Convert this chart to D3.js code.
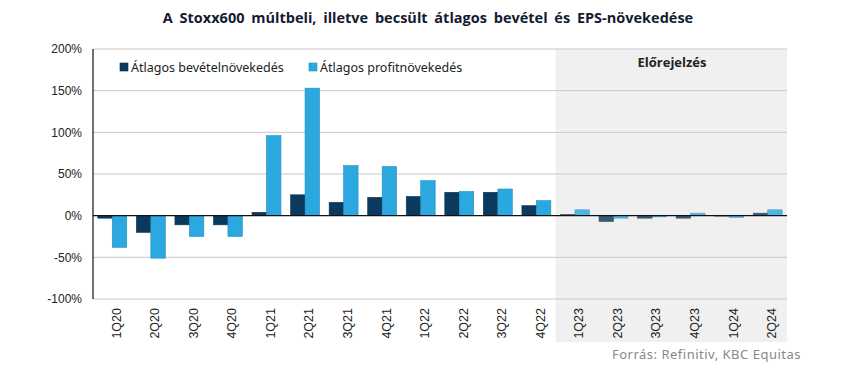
<!DOCTYPE html>
<html><head><meta charset="utf-8">
<script src="https://cdn.jsdelivr.net/npm/d3@7"></script>
<style>body{margin:0;background:#fff}svg{display:block}</style>
</head><body><svg id="c" width="850" height="365"></svg>
<script>
const categories = ["1Q20","2Q20","3Q20","4Q20","1Q21","2Q21","3Q21","4Q21","1Q22","2Q22","3Q22","4Q22","1Q23","2Q23","3Q23","4Q23","1Q24","2Q24"];
const revenue = [-3,-20,-11,-11,4,25,16,22,23,28,28,12,1.5,-7,-3,-3,-0.5,3];
const profit = [-38,-51,-25,-25,96,153,60,59,42,29,32,18,7,-3,-1.5,3,-2,7];
const forecastStart = "1Q23";
const yTicks = [-100,-50,0,50,100,150,200];
const seriesNames = ["Átlagos bevételnövekedés","Átlagos profitnövekedés"];
const colors = ["#0b3a5e","#2ba8e0"];
const strokes = ["#08304e","#1e8fc0"];

const svg = d3.select("#c");
const L=93, R=787, T=49, B=299;
const x = d3.scaleBand().domain(categories).range([L,R]).paddingInner(0.25).paddingOuter(0.125);
const y = d3.scaleLinear().domain([-100,200]).range([B,T]);
const xs = d3.scaleBand().domain([0,1]).range([0,x.bandwidth()]);

// forecast shade
const fx = x(forecastStart) - x.step()*x.paddingInner()/2;
svg.append("rect").attr("x",fx).attr("y",T).attr("width",R-fx).attr("height",342-T).attr("fill","#f0f0f0");

// grid
svg.append("g").selectAll("line").data(yTicks.filter(d=>d!==0)).join("line")
 .attr("x1",L).attr("x2",R).attr("y1",d=>y(d)).attr("y2",d=>y(d)).attr("stroke","#c8c8c8").attr("stroke-width",1);

// y axis labels
const ya = svg.append("g").attr("transform",`translate(${L},0)`).call(d3.axisLeft(y).tickValues(yTicks).tickFormat(d=>d+"%").tickSize(0).tickPadding(11));
ya.select(".domain").remove();
ya.selectAll("text").attr("font-family","Liberation Sans, Arial").attr("font-size",12).attr("fill","#222");

// bars
const data = categories.map((c,i)=>({c, v:[revenue[i],profit[i]], f: i>=categories.indexOf(forecastStart)}));
[0,1].forEach(s=>{
  svg.append("g").selectAll("rect").data(data).join("rect")
   .attr("x",d=>x(d.c)+xs(s)).attr("width",xs.bandwidth())
   .attr("y",d=>y(Math.max(0,d.v[s]))).attr("height",d=>Math.abs(y(d.v[s])-y(0)))
   .attr("fill",colors[s]).attr("stroke",strokes[s]).attr("stroke-width",0.6)
   .attr("opacity",d=>d.f?0.82:1);
});

// zero line & left axis
svg.append("line").attr("x1",L).attr("x2",R).attr("y1",y(0)).attr("y2",y(0)).attr("stroke","#111").attr("stroke-width",1.2);
svg.append("line").attr("x1",L).attr("x2",L).attr("y1",T).attr("y2",B).attr("stroke","#111").attr("stroke-width",1.2);

// x labels
const xa = svg.append("g").attr("transform",`translate(0,${B})`).call(d3.axisBottom(x).tickSize(0).tickPadding(0));
xa.select(".domain").remove();
xa.selectAll("text").attr("font-family","Liberation Sans, Arial").attr("font-size",12.5).attr("fill","#222")
  .attr("text-anchor","end").attr("transform","rotate(-90)").attr("x",-9).attr("y",4).attr("dy","0.35em").attr("dx",0);

// title
svg.append("text").attr("x",428).attr("y",23).attr("text-anchor","middle").attr("font-family","Open Sans, sans-serif").attr("font-weight","bold").attr("font-size",14.5).attr("fill","#141b33").attr("word-spacing","3px")
 .text("A Stoxx600 múltbeli, illetve becsült átlagos bevétel és EPS-növekedése");

// forecast label
svg.append("text").attr("x",672).attr("y",67).attr("text-anchor","middle").attr("font-family","Open Sans, sans-serif").attr("font-weight","bold").attr("font-size",13).attr("fill","#222").text("Előrejelzés");

// legend
const lg=[{x:120,t:seriesNames[0],c:colors[0]},{x:309,t:seriesNames[1],c:colors[1]}];
lg.forEach((d,i)=>{
  svg.append("rect").attr("x",d.x).attr("y",63).attr("width",8).attr("height",8).attr("fill",d.c).attr("stroke",strokes[i]).attr("stroke-width",0.6);
  svg.append("text").attr("x",d.x+11).attr("y",72).attr("font-family","Noto Sans, sans-serif").attr("font-size",12.5).attr("fill","#222").text(d.t);
});

// source
svg.append("text").attr("x",801).attr("y",359).attr("text-anchor","end").attr("font-family","Noto Sans, sans-serif").attr("font-size",13).attr("letter-spacing","0.5px").attr("fill","#888").text("Forrás: Refinitiv, KBC Equitas");
</script></body></html>
